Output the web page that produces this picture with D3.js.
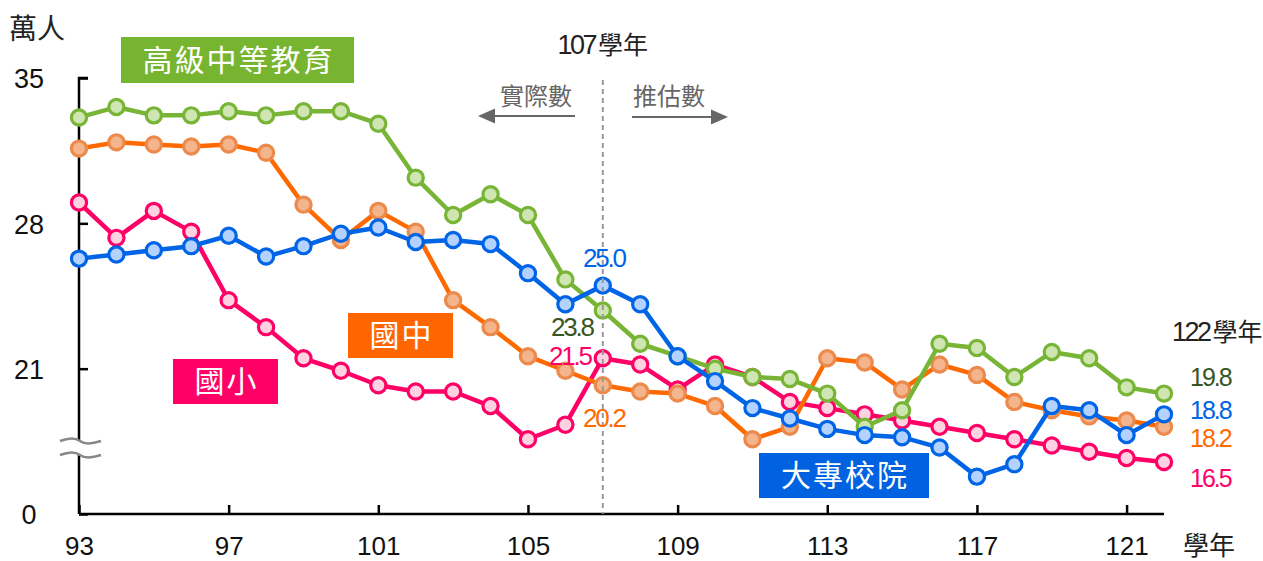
<!DOCTYPE html>
<html>
<head>
<meta charset="utf-8">
<script src="https://cdn.jsdelivr.net/npm/d3@7/dist/d3.min.js"></script>
<style>
  body { margin: 0; background: #fff; }
  text { font-family: "Liberation Sans", Arial, "Noto Sans CJK TC", sans-serif; }
  .cjk { font-family: "Noto Sans CJK TC", sans-serif; }
  .num { font-family: "Liberation Sans", Arial, sans-serif; }
</style>
</head>
<body>
<svg id="chart" width="1263" height="561"></svg>
<script>
// 學年 93 ~ 122
const years = [93, 94, 95, 96, 97, 98, 99, 100, 101, 102, 103, 104, 105, 106, 107,
	108, 109, 110, 111, 112, 113, 114, 115, 116, 117, 118, 119, 120, 121, 122];

// 萬人
const senior = [33.1, 33.6, 33.2, 33.2, 33.4, 33.2, 33.4, 33.4, 32.8, 30.2, 28.4, 29.4, 28.4, 25.3, 23.8,
	22.2, 21.6, 21.0, 20.6, 20.5, 19.8, 18.2, 19.0, 22.2, 22.0, 20.6, 21.8, 21.5, 20.1, 19.8];
const junior = [31.6, 31.9, 31.8, 31.7, 31.8, 31.4, 28.9, 27.2, 28.6, 27.6, 24.3, 23.0, 21.6, 20.9, 20.2,
	19.9, 19.8, 19.2, 17.6, 18.2, 21.5, 21.3, 20.0, 21.2, 20.7, 19.4, 19.0, 18.7, 18.5, 18.2];
const elementary = [29.0, 27.3, 28.6, 27.6, 24.3, 23.0, 21.5, 20.9, 20.2, 19.9, 19.9, 19.2, 17.6, 18.3, 21.5,
	21.2, 20.0, 21.2, 20.6, 19.4, 19.1, 18.8, 18.5, 18.2, 17.9, 17.6, 17.3, 17.0, 16.7, 16.5];
const college = [26.3, 26.5, 26.7, 26.9, 27.4, 26.4, 26.9, 27.5, 27.8, 27.1, 27.2, 27.0, 25.6, 24.1, 25.0,
	24.1, 21.6, 20.4, 19.1, 18.6, 18.1, 17.8, 17.7, 17.2, 15.8, 16.4, 19.2, 19.0, 17.8, 18.8];

const xTicks = [93, 97, 101, 105, 109, 113, 117, 121];
const yTicks = [14, 21, 28, 35];
const yTickLabels = ['0', '21', '28', '35'];

const svg = d3.select('#chart');

const x = d3.scaleLinear().domain([93, 122]).range([79, 1164]);
const y = d3.scaleLinear().domain([14, 35]).range([514, 78]);

// series, drawn bottom to top
const series = [
	{ name: '國小', values: elementary, line: '#ff0066', ring: '#ff0066', fill: '#ffd2e1', text: '#ff0066' },
	{ name: '國中', values: junior, line: '#ff6a00', ring: '#ec8a4c', fill: '#f4b48c', text: '#ff6a00' },
	{ name: '高級中等教育', values: senior, line: '#78b536', ring: '#78b536', fill: '#cfe6b3', text: '#375623' },
	{ name: '大專校院', values: college, line: '#0064e6', ring: '#0064e6', fill: '#b4d2ff', text: '#0064e6' },
];

// axes
const axisY = d3.axisLeft(y).tickValues(yTicks).tickSize(-9).tickFormat((d, i) => yTickLabels[i]);
const gy = svg.append('g').attr('transform', `translate(${x(93)},0)`).call(axisY);
gy.select('.domain').attr('d', `M9,${y(35)}H0V${y(14)}`);
gy.selectAll('path, line').attr('stroke', '#000').attr('stroke-width', 2.5);
gy.selectAll('text').attr('font-size', 27).attr('fill', '#111')
	.attr('text-anchor', 'middle').attr('x', -50).attr('dy', '0.36em');

const axisX = d3.axisBottom(x).tickValues(xTicks).tickSize(-9).tickFormat(d3.format('d'));
const gx = svg.append('g').attr('transform', `translate(0,${y(14)})`).call(axisX);
gx.select('.domain').attr('d', `M${x(93)},0H${x(122)}`);
gx.selectAll('path, line').attr('stroke', '#000').attr('stroke-width', 2.5);
gx.selectAll('text').attr('font-size', 26).attr('fill', '#111').attr('y', 41).attr('dy', null);

// axis break
const yb1 = 441, yb2 = 455;
svg.append('rect').attr('x', x(93) - 3).attr('y', yb1).attr('width', 6).attr('height', yb2 - yb1).attr('fill', '#fff');
[yb1, yb2].forEach(yy => {
	svg.append('path')
		.attr('d', `M60,${yy} C70,${yy - 4} 76,${yy - 3} 80,${yy} S92,${yy + 3} 101,${yy}`)
		.attr('fill', 'none').attr('stroke', '#888').attr('stroke-width', 2.5);
});

svg.append('text').attr('class', 'cjk').attr('x', 9).attr('y', 29)
	.attr('dy', '0.36em').attr('font-size', 28).attr('fill', '#222').text('萬人');
svg.append('text').attr('class', 'cjk').attr('x', 1183).attr('y', 546)
	.attr('dy', '0.34em').attr('font-size', 26).attr('fill', '#222').text('學年');

// lines and markers
const line = d3.line().x((d, i) => x(years[i])).y(d => y(d));
series.forEach(s => {
	const g = svg.append('g');
	g.append('path').datum(s.values).attr('d', line)
		.attr('fill', 'none').attr('stroke', s.line).attr('stroke-width', 4.5).attr('stroke-linejoin', 'round');
	g.selectAll('circle').data(s.values).join('circle')
		.attr('cx', (d, i) => x(years[i])).attr('cy', d => y(d)).attr('r', 7.6)
		.attr('fill', s.fill).attr('stroke', s.ring).attr('stroke-width', 3.2);
});

// 107 divider
svg.append('line').attr('x1', x(107)).attr('x2', x(107)).attr('y1', 80).attr('y2', y(14))
	.attr('stroke', '#999').attr('stroke-width', 2).attr('stroke-dasharray', '5,4');

const t107 = svg.append('text').attr('x', x(107)).attr('y', 48).attr('dy', '0.36em')
	.attr('text-anchor', 'middle').attr('fill', '#222');
t107.append('tspan').attr('class', 'num').attr('font-size', 27).attr('letter-spacing', -2.5).text('107');
t107.append('tspan').attr('class', 'cjk').attr('dx', 3).attr('font-size', 25).text('學年');

svg.append('text').attr('class', 'cjk').attr('x', 572).attr('y', 96).attr('dy', '0.36em')
	.attr('text-anchor', 'end').attr('font-size', 24).attr('fill', '#666').text('實際數');
svg.append('text').attr('class', 'cjk').attr('x', 633).attr('y', 96).attr('dy', '0.36em')
	.attr('font-size', 24).attr('fill', '#666').text('推估數');

const arrows = [{ from: 575, to: 478, yy: 116 }, { from: 632, to: 728, yy: 117 }];
arrows.forEach(a => {
	const dir = Math.sign(a.to - a.from);
	svg.append('line').attr('x1', a.from).attr('x2', a.to - dir * 14).attr('y1', a.yy).attr('y2', a.yy)
		.attr('stroke', '#666').attr('stroke-width', 2);
	svg.append('path')
		.attr('d', `M${a.to},${a.yy} L${a.to - dir * 17},${a.yy - 7.5} L${a.to - dir * 17},${a.yy + 7.5} Z`)
		.attr('fill', '#666');
});

// category boxes
const boxes = [
	{ text: '高級中等教育', x0: 121, y0: 37, w: 233, h: 46, color: '#77b530' },
	{ text: '國中', x0: 348, y0: 313, w: 105, h: 45, color: '#ff6600' },
	{ text: '國小', x0: 173, y0: 359, w: 105, h: 45, color: '#ff0066' },
	{ text: '大專校院', x0: 759, y0: 453, w: 170, h: 45, color: '#0062e0' },
];
boxes.forEach(b => {
	svg.append('rect').attr('x', b.x0).attr('y', b.y0).attr('width', b.w).attr('height', b.h).attr('fill', b.color);
	svg.append('text').attr('class', 'cjk').attr('x', b.x0 + b.w / 2 + 1).attr('y', b.y0 + b.h / 2)
		.attr('dy', '0.36em').attr('text-anchor', 'middle').attr('font-size', 30)
		.attr('letter-spacing', 2).attr('fill', '#fff')
		.text(b.text);
});

// value labels at 107 and 122
const i107 = years.indexOf(107), i122 = years.indexOf(122);
const labels107 = [
	{ s: 3, dx: 1, dy: -28 },
	{ s: 2, dx: -31, dy: 16 },
	{ s: 0, dx: -33, dy: -3 },
	{ s: 1, dx: 1, dy: 32 },
];
labels107.forEach(l => {
	const s = series[l.s];
	svg.append('text').attr('class', 'num')
		.attr('x', x(107) + l.dx).attr('y', y(s.values[i107]) + l.dy).attr('dy', '0.36em')
		.attr('text-anchor', 'middle').attr('font-size', 26).attr('letter-spacing', -2.2).attr('fill', s.text)
		.text(s.values[i107].toFixed(1));
});

svg.append('text').attr('x', 1172).attr('y', 335).attr('dy', '0.36em').attr('fill', '#222')
	.call(t => {
		t.append('tspan').attr('class', 'num').attr('font-size', 27).attr('letter-spacing', -2.5).text('122');
		t.append('tspan').attr('class', 'cjk').attr('dx', 3).attr('font-size', 25).text('學年');
	});
const rightY = { 2: 377, 3: 410, 1: 438, 0: 478 };
[2, 3, 1, 0].forEach(k => {
	const s = series[k];
	svg.append('text').attr('class', 'num').attr('x', 1190).attr('y', rightY[k]).attr('dy', '0.36em')
		.attr('font-size', 25).attr('letter-spacing', -2).attr('fill', s.text).text(s.values[i122].toFixed(1));
});
</script>
</body>
</html>
